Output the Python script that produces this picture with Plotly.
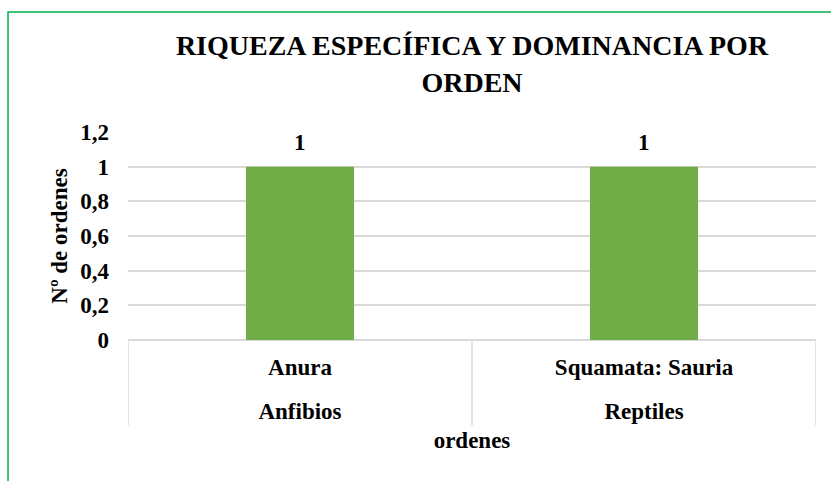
import plotly.graph_objects as go

# Data
clases = ["Anfibios", "Reptiles"]
ordenes = ["Anura", "Squamata: Sauria"]
num_ordenes = [1, 1]
y_ticks = [0, 0.2, 0.4, 0.6, 0.8, 1.0, 1.2]

FONT = "Liberation Serif"
GREEN = "#70AD47"
GRID = "#D9D9D9"
BOLD23 = dict(family=FONT, size=23, color="black", weight="bold")

positions = list(range(len(ordenes)))
# Spanish-style decimal comma for the value axis
y_ticktext = [f"{v:g}".replace(".", ",") for v in y_ticks]

fig = go.Figure(
    go.Bar(
        x=ordenes,
        y=num_ordenes,
        width=0.314,
        marker=dict(color=GREEN, line=dict(width=0)),
        showlegend=False,
    )
)

# Value labels above the bars
for cat, val in zip(ordenes, num_ordenes):
    fig.add_annotation(
        x=cat, y=val, xref="x", yref="y",
        text=f"{val:g}", showarrow=False,
        yanchor="bottom", yshift=10,
        font=BOLD23,
    )

fig.update_layout(
    width=831,
    height=481,
    margin=dict(l=128, r=15, t=132, b=141),
    paper_bgcolor="white",
    plot_bgcolor="white",
    title=dict(
        text="RIQUEZA ESPECÍFICA Y DOMINANCIA POR<br>ORDEN",
        x=0.5,
        xref="paper",
        xanchor="center",
        y=0.885,
        yanchor="middle",
        font=dict(family=FONT, size=28, color="black", weight="bold"),
    ),
    # inner level: order names
    xaxis=dict(
        type="category",
        categoryarray=ordenes,
        range=[-0.5, len(ordenes) - 0.5],
        showgrid=False,
        showline=False,
        zeroline=False,
        ticks="",
        tickfont=BOLD23,
        ticklabelstandoff=11,
    ),
    # outer level: classes
    xaxis2=dict(
        overlaying="x",
        anchor="y",
        side="bottom",
        range=[-0.5, len(ordenes) - 0.5],
        tickvals=positions,
        ticktext=clases,
        showgrid=False,
        showline=False,
        zeroline=False,
        ticks="",
        tickfont=BOLD23,
        ticklabelstandoff=55,
        title=dict(text="ordenes", font=BOLD23, standoff=8),
    ),
    yaxis=dict(
        range=[0, 1.2],
        tickvals=y_ticks,
        ticktext=y_ticktext,
        showgrid=True,
        gridcolor=GRID,
        gridwidth=1.5,
        zeroline=True,
        zerolinecolor=GRID,
        zerolinewidth=1.5,
        showline=False,
        ticks="",
        tickfont=BOLD23,
        ticklabelstandoff=18,
        title=dict(text="Nº de ordenes", font=BOLD23, standoff=6),
    ),
)

# Invisible trace so the outer-level axis is drawn
fig.add_trace(go.Scatter(x=positions, y=[0] * len(positions), xaxis="x2", yaxis="y",
                         mode="markers", marker=dict(opacity=0), hoverinfo="skip",
                         showlegend=False))

# Category dividers below the axis
for b in [p - 0.5 for p in positions] + [len(ordenes) - 0.5]:
    fig.add_shape(
        type="line", xref="x", yref="paper",
        x0=b, x1=b, y0=0, y1=-0.41,
        line=dict(color=GRID, width=1.5),
    )

# Chart-area border
fig.add_shape(
    type="rect",
    xref="paper",
    yref="paper",
    x0=-0.1744,
    x1=1.2,
    y0=-0.8,
    y1=1.577,
    line=dict(color="#00B050", width=1.5),
    fillcolor="rgba(0,0,0,0)",
    layer="below",
)

fig.write_html("out.html")
